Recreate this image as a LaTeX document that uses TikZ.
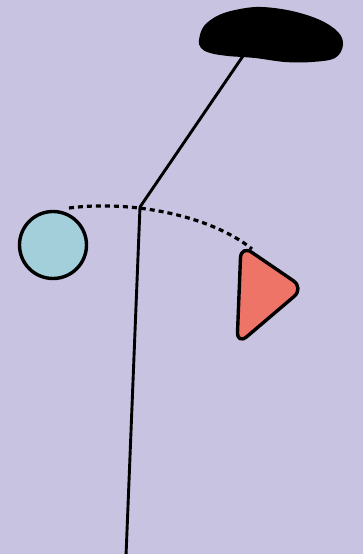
\documentclass[tikz,border=0pt]{standalone}
\usepackage{xcolor}
\usepackage{tikz}
\usetikzlibrary{positioning, calc}
\definecolor{bgpurple}{HTML}{C8C3E0}
\definecolor{ballblue}{HTML}{A3CFDB}
\definecolor{tipred}{HTML}{EE7468}
\tikzstyle{rod} = [line width=2.9pt, line cap=round]
\tikzstyle{ball} = [circle, draw, line width=3.4pt, fill=ballblue, minimum size=67pt, inner sep=0pt]
\tikzstyle{swing} = [line width=3.2pt, dash pattern=on 5pt off 4pt]
\tikzstyle{flag} = [draw, line width=3.4pt, line join=round, fill=tipred, rounded corners=13pt]

\begin{document}
\begin{tikzpicture}[x=1pt,y=-1pt]
    \fill[bgpurple] (0,0) rectangle (363,554);
    \useasboundingbox (0,0) rectangle (363,554);

    % the pole and its bent top
    \coordinate (pivot) at (140,207);
    \coordinate (base) at (126,556);
    \coordinate (hook) at (243,56);

    % black head
    \fill[black] plot[smooth cycle, tension=0.6] coordinates {
        (199,40) (204,26) (219,15) (240,9) (262,7) (292,11) (320,20)
        (338,32) (343,45) (335,58) (312,62) (285,62) (255,58) (228,56)
        (210,53) (201,48)};

    \draw[rod] (pivot) -- (base);
    \draw[rod] (pivot) -- (hook);

    % swinging parts
    \node (ball) [ball] at (53,245) {};
    \coordinate (start) at (69,208);
    \coordinate (tip) at (252,249);
    \draw[swing] (start) .. controls (130,200) and (210,215) .. (tip);

    \draw[flag] (241,245) -- (304,288) -- (237,345) -- cycle;
\end{tikzpicture}
\end{document}
